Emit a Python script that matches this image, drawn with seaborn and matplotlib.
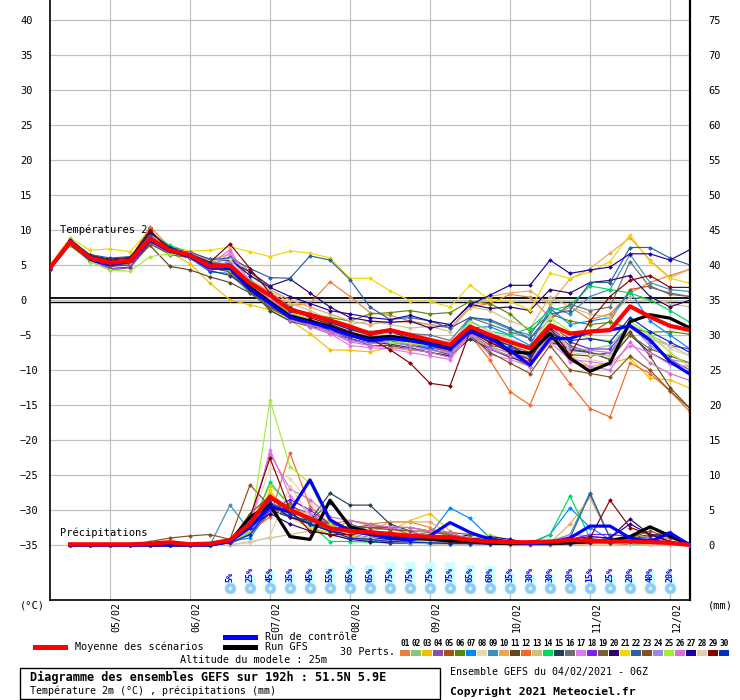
import numpy as np
import pandas as pd
import seaborn as sns
import matplotlib.pyplot as plt
from matplotlib.lines import Line2D
from matplotlib.patches import Rectangle

plt.rcParams['font.family'] = ['DejaVu Sans Mono', 'DejaVu Sans']

# échéances (heures depuis le 04/02 06Z)
heures_t = list(range(0, 193, 6))
heures_p = list(range(6, 193, 6))
jours = ['05/02', '06/02', '07/02', '08/02', '09/02', '10/02', '11/02', '12/02']
heures_jours = [18, 42, 66, 90, 114, 138, 162, 186]

couleurs = ['#e8803a', '#88c878', '#f0c000', '#8850a8', '#b05010', '#588800',
            '#0088ff', '#e8d8b0', '#3890c0', '#e8a858', '#604818', '#f86820',
            '#d0c080', '#00d860', '#204058', '#687078', '#e078f0', '#8020f0',
            '#786030', '#300070', '#f0d800', '#2860a0', '#885020', '#9888e8',
            '#a0f030', '#d870d0', '#2000a0', '#e0d0b0', '#880000', '#0030c0']

# températures 2m des 30 perturbations
t01 = [4.5, 8.6, 6.2, 5.5, 5.8, 10.5, 7.5, 6.3, 5.0, 4.6, 2.0, 0.5, -0.8, -0.5, 2.6, 0.5, -1.8, -2.2, -3.0, -3.5, -4.0, -1.0, -0.5, 0.8, 0.4, -2.5, -1.0, -2.8, -2.0, 1.0, 2.5, 3.5, 4.4]
t02 = [4.7, 8.2, 5.8, 5.0, 5.2, 8.5, 6.9, 6.0, 4.5, 4.3, 1.5, -0.5, -2.5, -3.3, -4.2, -5.0, -5.5, -5.8, -6.0, -6.5, -7.0, -4.6, -5.5, -7.0, -8.0, -4.8, -6.0, -7.0, -6.5, -3.5, -5.0, -6.5, -8.0]
t03 = [4.4, 8.0, 5.7, 5.0, 5.3, 8.3, 6.8, 5.2, 2.4, 0.0, -0.7, -1.4, -2.9, -4.8, -7.1, -7.2, -7.4, -6.8, -7.2, -7.0, -8.0, -5.0, -6.8, -7.5, -9.0, -5.5, -8.0, -9.5, -9.0, -8.3, -11.2, -11.4, -12.6]
t04 = [4.3, 8.0, 5.5, 4.3, 4.6, 8.0, 6.7, 6.1, 4.6, 4.4, 1.8, -0.2, -2.8, -3.5, -4.5, -5.2, -5.8, -6.0, -6.5, -6.8, -7.4, -4.5, -6.0, -7.5, -8.5, -4.5, -7.2, -7.5, -8.0, -3.8, -6.0, -8.5, -10.0]
t05 = [4.6, 8.4, 6.3, 5.6, 5.9, 9.3, 7.3, 6.5, 5.1, 5.2, 2.8, 1.2, -1.0, -2.2, -3.0, -4.0, -5.3, -5.0, -5.5, -6.2, -6.6, -4.2, -5.4, -6.5, -7.5, -3.8, -5.5, -4.8, -3.0, 1.5, 2.0, 0.8, 0.5]
t06 = [4.8, 8.5, 6.1, 5.3, 5.5, 9.0, 7.6, 6.6, 5.2, 4.5, 2.2, 0.0, -1.8, -2.0, -2.5, -3.0, -2.0, -1.8, -1.5, -2.0, -1.8, -0.2, -0.5, -2.0, -4.5, -2.0, -3.0, -3.5, -3.2, -4.0, -4.6, -4.5, -4.9]
t07 = [4.4, 8.1, 5.9, 5.2, 5.4, 8.4, 6.8, 6.0, 4.0, 3.8, 1.0, -1.0, -2.0, -2.7, -4.0, -5.0, -5.8, -6.0, -6.2, -6.8, -7.0, -4.0, -3.8, -5.0, -6.5, -1.2, -3.5, -3.0, -2.5, 1.2, -3.0, -5.0, -7.0]
t08 = [4.6, 8.2, 6.0, 5.5, 5.7, 8.6, 7.0, 6.6, 5.4, 5.5, 3.0, 1.2, -1.2, -2.5, -3.5, -5.0, -6.0, -6.4, -6.0, -6.5, -7.2, -4.8, -6.5, -7.8, -8.5, -4.5, -8.0, -8.5, -9.0, -4.2, -5.5, -7.0, -8.0]
t09 = [4.5, 8.3, 6.2, 5.4, 5.6, 8.7, 7.0, 6.2, 4.5, 4.2, 1.5, -0.8, -2.2, -3.0, -3.8, -4.8, -5.5, -5.2, -5.6, -6.0, -6.8, -2.5, -3.0, -4.2, -5.0, -1.0, -2.0, 0.5, 1.5, 6.5, 2.5, 1.5, 1.2]
t10 = [4.7, 8.6, 6.4, 5.8, 6.0, 9.4, 7.2, 6.8, 5.8, 6.5, 4.0, 1.5, 0.0, -1.0, -2.0, -3.0, -3.5, -3.0, -3.2, -3.5, -4.0, -1.2, 0.5, 1.0, 1.3, -0.5, 3.0, 4.5, 6.7, 8.9, 5.7, 3.2, 4.4]
t11 = [4.4, 7.8, 5.6, 4.8, 5.0, 7.8, 4.8, 4.3, 3.3, 2.5, 1.0, -1.0, -2.5, -3.8, -4.8, -5.5, -6.5, -6.5, -7.0, -7.5, -8.0, -5.5, -7.0, -8.0, -9.5, -5.0, -7.8, -8.0, -7.5, -4.5, -8.0, -12.5, -15.5]
t12 = [4.6, 8.3, 6.1, 5.4, 5.6, 8.9, 7.0, 6.3, 4.7, 4.6, 2.0, 0.2, -1.8, -2.8, -3.8, -4.5, -5.5, -6.0, -6.3, -6.5, -7.5, -5.0, -8.6, -13.1, -15.0, -8.1, -12.0, -15.5, -16.7, -9.0, -10.5, -13.0, -16.0]
t13 = [4.5, 8.4, 6.2, 5.6, 5.8, 9.2, 7.4, 7.0, 5.6, 6.0, 3.5, 1.5, -0.5, -1.5, -2.8, -3.5, -3.0, -3.5, -4.0, -3.8, -4.5, -1.0, -1.5, -3.0, -4.0, 0.5, -1.0, -2.0, -2.5, 0.5, 0.0, -0.5, -1.0]
t14 = [4.8, 8.8, 6.4, 5.7, 5.9, 9.5, 7.8, 6.8, 5.5, 5.0, 2.8, 0.5, -1.0, -2.5, -3.2, -4.2, -5.0, -5.5, -5.2, -6.0, -6.2, -3.0, -4.5, -5.0, -4.0, -1.5, -0.8, 2.0, 1.5, 1.0, 0.0, -1.5, -3.2]
t15 = [4.6, 8.5, 6.3, 5.8, 6.1, 9.0, 7.2, 6.2, 4.2, 3.5, 1.5, -1.5, -3.0, -3.8, -4.2, -5.2, -6.0, -6.3, -6.8, -7.5, -8.0, -5.5, -7.0, -8.2, -9.0, -6.0, -7.0, -7.5, -8.5, -5.0, -7.5, -9.0, -10.5]
t16 = [4.5, 8.2, 6.0, 5.4, 5.7, 8.8, 7.1, 6.4, 4.9, 6.2, 2.5, 0.8, -1.5, -2.0, -3.0, -3.8, -4.5, -4.2, -4.8, -5.0, -5.8, -2.5, -3.5, -4.5, -5.5, -2.8, -0.6, -1.5, -1.0, 5.5, 1.8, 1.0, 0.5]
t17 = [4.4, 8.0, 5.9, 5.1, 5.4, 8.6, 7.0, 6.2, 4.4, 6.8, 2.2, -0.5, -2.8, -3.8, -4.8, -6.5, -6.8, -7.0, -7.5, -8.0, -8.5, -5.0, -7.8, -8.5, -9.5, -6.0, -8.5, -8.8, -9.2, -6.5, -7.5, -9.2, -9.5]
t18 = [4.5, 8.3, 5.8, 4.5, 4.7, 8.4, 6.9, 6.0, 4.3, 4.8, 2.0, 0.0, -2.0, -3.3, -4.2, -5.5, -6.2, -5.8, -6.5, -7.0, -7.8, -4.0, -6.2, -6.8, -7.8, -4.0, -6.0, -7.0, -7.0, -3.5, -5.5, -6.5, -7.0]
t19 = [4.7, 8.1, 5.7, 5.0, 5.2, 8.0, 6.5, 6.0, 4.6, 4.0, 1.2, -1.2, -2.6, -3.5, -4.0, -5.0, -5.8, -5.5, -6.0, -6.5, -7.0, -4.5, -6.5, -7.0, -8.0, -4.2, -6.5, -7.5, -8.5, -5.0, -7.0, -8.0, -9.0]
t20 = [4.6, 8.5, 6.2, 5.6, 5.8, 9.6, 7.5, 6.8, 5.8, 5.6, 4.0, 2.0, 3.0, 1.0, -1.0, -2.5, -3.0, -3.2, -3.0, -4.0, -3.5, -0.6, -1.2, -1.0, -1.5, 1.5, 1.0, 2.5, 2.8, 3.5, 0.5, -1.0, 0.0]
t21 = [4.9, 8.9, 7.1, 7.3, 6.9, 10.0, 7.3, 7.0, 7.1, 7.6, 6.9, 6.2, 7.0, 6.7, 6.0, 3.1, 3.1, 1.3, -0.1, -0.2, -1.0, 2.1, 0.0, -0.2, -1.4, 3.8, 3.1, 4.0, 5.5, 9.3, 5.5, 3.1, 2.4]
t22 = [4.5, 8.4, 6.5, 6.0, 6.2, 9.1, 7.2, 6.8, 5.8, 6.0, 4.5, 3.2, 3.1, 6.3, 5.7, 2.9, -1.0, -2.8, -2.5, -3.0, -4.0, -2.5, -2.8, -4.0, -5.5, -2.0, -1.5, 2.5, 2.5, 7.5, 7.5, 6.0, 5.0]
t23 = [4.6, 8.3, 6.0, 5.2, 5.5, 8.7, 7.2, 6.5, 5.0, 5.3, 2.6, 0.6, -1.6, -2.4, -3.4, -4.6, -5.2, -5.5, -5.8, -6.6, -7.2, -5.0, -7.5, -9.0, -10.5, -6.5, -10.0, -10.5, -11.0, -8.0, -10.0, -13.0, -15.5]
t24 = [4.5, 8.2, 5.9, 5.0, 5.3, 8.5, 6.8, 6.1, 4.6, 5.5, 2.3, 0.2, -2.1, -3.2, -4.6, -5.8, -6.2, -6.0, -6.5, -7.2, -7.5, -5.0, -6.8, -7.5, -8.2, -4.5, -6.8, -7.2, -7.5, -3.5, -6.5, -8.5, -9.0]
t25 = [4.8, 8.0, 5.5, 4.3, 4.1, 6.2, 6.6, 6.3, 4.8, 4.3, 2.5, 0.5, -1.8, -2.8, -4.0, -4.8, -5.5, -6.0, -6.2, -6.5, -6.8, -3.5, -5.8, -6.5, -7.0, -2.5, -4.5, -5.5, -5.8, -3.0, -5.0, -7.5, -9.5]
t26 = [4.5, 8.2, 6.0, 5.3, 5.6, 8.9, 7.1, 6.3, 5.0, 7.2, 2.5, 0.0, -2.3, -3.5, -4.6, -6.0, -6.5, -6.8, -7.0, -7.5, -8.2, -4.6, -7.0, -8.0, -8.8, -5.0, -8.8, -9.5, -10.0, -6.0, -9.0, -10.5, -11.5]
t27 = [4.6, 8.6, 6.3, 5.8, 6.0, 9.8, 7.4, 6.7, 5.6, 5.8, 3.5, 1.8, 0.5, -0.5, -1.5, -2.0, -2.5, -2.8, -2.2, -3.0, -3.5, -0.7, 0.7, 2.1, 2.1, 5.7, 3.8, 4.3, 4.7, 6.6, 6.6, 5.7, 7.2]
t28 = [4.6, 8.3, 6.2, 5.7, 5.9, 8.8, 7.2, 6.7, 5.6, 5.8, 2.6, 0.5, -1.4, -2.4, -3.6, -4.5, -5.0, -4.8, -5.2, -5.5, -6.0, -3.2, -4.5, -5.5, -6.8, -2.2, -7.5, -7.8, -8.0, -3.8, -5.5, -6.5, -8.0]
t29 = [4.7, 8.5, 6.4, 5.7, 6.0, 10.0, 7.0, 6.6, 5.4, 8.0, 4.5, 1.0, -1.2, -2.5, -3.5, -4.5, -5.5, -7.1, -9.0, -11.9, -12.3, -4.5, -6.0, -7.5, -8.5, -4.0, -7.8, -3.0, 0.5, 2.8, 3.5, 1.8, 1.8]
t30 = [4.5, 8.6, 6.3, 5.5, 5.7, 8.9, 7.3, 6.6, 5.2, 5.0, 2.5, 0.8, -1.5, -2.2, -3.2, -4.2, -5.0, -4.5, -5.5, -6.5, -7.0, -4.0, -5.5, -6.5, -8.0, -4.8, -5.8, -5.5, -6.0, -2.5, -4.5, -6.0, -7.5]

t_moyenne = [4.6, 8.3, 6.0, 5.3, 5.6, 8.8, 7.1, 6.4, 4.8, 4.9, 2.4, 0.7, -1.4, -2.1, -2.9, -3.8, -4.8, -4.3, -5.0, -5.7, -6.4, -3.8, -5.0, -6.0, -6.9, -3.6, -4.8, -4.5, -4.3, -0.9, -2.4, -3.7, -4.3]
t_controle = [4.6, 8.3, 5.8, 5.0, 5.5, 8.5, 7.0, 6.2, 4.6, 4.5, 1.5, -0.5, -2.5, -3.2, -4.0, -5.0, -5.8, -5.5, -5.8, -6.3, -7.0, -4.5, -5.5, -7.2, -9.3, -5.5, -5.5, -4.5, -4.3, -3.7, -5.7, -8.8, -10.6]
t_gfs = [4.6, 8.2, 5.9, 5.2, 5.5, 8.6, 7.0, 6.3, 4.7, 4.6, 1.8, -0.3, -2.3, -3.0, -3.8, -4.8, -5.5, -5.2, -5.6, -6.0, -6.6, -4.3, -5.0, -7.4, -7.6, -4.8, -8.3, -10.2, -9.0, -3.1, -2.1, -2.6, -4.0]

# précipitations (mm / 6h) des 30 perturbations
p01 = [0, 0, 0, 0, 0, 0, 0, 0, 0.5, 2.5, 7.0, 5.5, 3.0, 2.0, 3.5, 3.0, 3.3, 3.3, 2.5, 1.0, 0.5, 0.3, 0.2, 0.2, 0.3, 0.5, 1.0, 0.5, 0.5, 0.8, 1.0, 0]
p02 = [0, 0, 0, 0, 0, 0, 0, 0, 0.3, 1.5, 5.0, 4.0, 2.5, 1.5, 1.0, 0.5, 0.3, 0.2, 0.5, 0.8, 0.3, 0.1, 0, 0, 0, 0.2, 0.3, 0.5, 0.3, 0.2, 0.1, 0]
p03 = [0, 0, 0, 0, 0, 0, 0, 0.1, 0.8, 3.0, 8.5, 6.0, 3.0, 2.0, 1.5, 1.0, 2.0, 3.5, 4.5, 2.0, 0.5, 0.2, 0.1, 0.1, 0.2, 0.3, 0.2, 0.3, 0.8, 2.5, 1.0, 0]
p04 = [0, 0, 0, 0, 0, 0, 0, 0, 0.4, 2.0, 6.5, 5.5, 4.5, 2.5, 1.5, 1.0, 0.5, 0.3, 0.2, 0.5, 1.2, 0.4, 0.2, 0, 0, 0.3, 0.5, 0.3, 0.2, 0.1, 0.1, 0]
p05 = [0, 0, 0, 0, 0, 0, 0, 0, 0.2, 1.5, 4.5, 6.0, 3.5, 2.0, 1.2, 0.8, 0.5, 0.3, 0.2, 0.2, 0.1, 0.1, 0, 0, 0, 0.2, 0.2, 0.2, 0.1, 0.1, 0.1, 0]
p06 = [0, 0, 0, 0, 0, 0, 0, 0, 0.3, 2.5, 6.0, 4.5, 3.0, 2.5, 2.0, 1.5, 1.0, 1.5, 1.8, 1.5, 0.6, 0.3, 0.2, 0.1, 0.2, 0.5, 0.6, 0.4, 0.3, 0.2, 0.2, 0]
p07 = [0, 0, 0, 0, 0, 0, 0, 0, 0.5, 1.0, 5.0, 4.0, 3.0, 2.5, 1.0, 0.8, 0.5, 0.4, 1.5, 5.3, 3.8, 1.0, 0.3, 0.3, 1.5, 5.3, 2.5, 0.8, 0.3, 0.5, 0.5, 0]
p08 = [0, 0, 0, 0, 0, 0, 0, 0, 0.2, 3.0, 11.0, 9.5, 6.0, 3.5, 1.5, 1.0, 0.7, 0.6, 0.5, 0.3, 0.2, 0.1, 0.1, 0, 0.1, 0.3, 0.5, 0.6, 0.5, 0.5, 0.8, 0]
p09 = [0, 0, 0, 0, 0, 0, 0, 0, 5.7, 2.0, 4.5, 5.0, 3.5, 2.0, 1.5, 1.0, 0.5, 0.3, 0.3, 0.2, 0.1, 0.1, 0.2, 0.3, 0.5, 1.5, 7.5, 1.0, 0.5, 0.3, 0.2, 0]
p10 = [0, 0, 0, 0, 0, 0, 0, 0, 0.3, 2.0, 7.5, 5.0, 4.5, 3.0, 2.5, 2.0, 3.3, 3.3, 3.3, 1.5, 0.5, 0.3, 0.2, 0.2, 0.3, 3.0, 6.8, 1.0, 0.3, 1.5, 1.2, 0]
p11 = [0, 0, 0, 0, 0, 0, 0, 0, 0.5, 2.5, 6.0, 5.0, 3.5, 3.0, 2.5, 2.8, 2.5, 1.5, 1.0, 0.5, 0.3, 0.2, 0.1, 0.1, 0.1, 0.2, 0.3, 0.5, 1.0, 1.5, 0.5, 0]
p12 = [0, 0, 0, 0, 0, 0, 0, 0, 0.2, 2.0, 4.0, 13.1, 5.5, 3.0, 3.5, 3.0, 2.5, 1.5, 1.0, 0.5, 0.2, 0.1, 0.1, 0, 0, 0.1, 0.2, 0.3, 0.2, 0.1, 0.1, 0]
p13 = [0, 0, 0, 0, 0, 0, 0, 0, 0, 0.5, 1.0, 1.5, 2.0, 1.5, 1.0, 0.8, 0.5, 0.3, 0.2, 0.1, 0, 0, 0, 0, 0, 0.1, 0.2, 0.5, 0.8, 1.0, 0.6, 0]
p14 = [0, 0, 0, 0, 0, 0, 0, 0, 0.4, 1.8, 9.0, 5.5, 3.0, 0.5, 0.5, 0.4, 0.3, 0.3, 0.2, 0.2, 0.1, 0.1, 0.1, 0.1, 1.5, 7.0, 1.0, 0.3, 0.2, 0.1, 0.1, 0]
p15 = [0, 0, 0, 0, 0, 0, 0, 0, 0.5, 2.5, 5.0, 4.0, 3.5, 7.4, 5.7, 5.7, 3.0, 2.0, 1.0, 0.5, 0.3, 0.2, 0.1, 0.1, 0.2, 0.5, 0.8, 0.6, 0.4, 0.3, 0.2, 0]
p16 = [0, 0, 0, 0, 0, 0, 0, 0, 0.3, 1.5, 6.0, 4.5, 3.0, 2.0, 1.5, 1.0, 0.8, 0.6, 0.5, 0.3, 0.2, 0.1, 0.1, 0.1, 0.2, 0.4, 0.6, 0.5, 0.4, 0.3, 0.2, 0]
p17 = [0, 0, 0, 0, 0, 0, 0, 0, 0.3, 2.5, 13.6, 7.0, 4.5, 3.0, 2.5, 2.0, 2.5, 2.0, 1.2, 0.5, 0.3, 0.2, 0.1, 0.1, 0.2, 1.5, 1.3, 0.8, 0.5, 0.3, 0.2, 0]
p18 = [0, 0, 0, 0, 0, 0, 0, 0, 0.2, 1.5, 5.0, 6.5, 5.0, 3.0, 1.5, 1.0, 0.8, 0.5, 0.3, 0.2, 0.3, 1.0, 0.5, 0.2, 0.2, 0.8, 1.5, 1.5, 1.2, 0.8, 0.3, 0]
p19 = [0, 0, 0, 0, 0, 0, 0, 0, 0.4, 4.5, 7.0, 5.0, 4.0, 3.0, 2.5, 2.5, 2.5, 2.5, 2.0, 1.5, 1.0, 0.5, 0.3, 0.2, 0.2, 0.3, 0.5, 0.4, 0.3, 0.2, 0.2, 0]
p20 = [0, 0, 0, 0, 0, 0, 0, 0.2, 0.8, 2.5, 4.5, 3.0, 2.0, 1.5, 0.8, 0.5, 0.3, 0.3, 0.5, 0.8, 1.5, 1.0, 0.5, 0.3, 0.2, 0.3, 0.5, 1.0, 3.7, 1.5, 0.5, 0]
p21 = [0, 0, 0, 0, 0, 0, 0, 0, 0.3, 2.0, 7.8, 4.0, 2.5, 1.8, 1.2, 1.0, 0.8, 0.8, 0.5, 0.5, 0.4, 0.3, 0.3, 0.3, 0.2, 0.3, 0.2, 0.2, 0.5, 2.5, 1.5, 0]
p22 = [0, 0, 0, 0, 0, 0, 0, 0, 0.5, 3.0, 6.5, 5.0, 3.5, 6.0, 3.0, 2.0, 1.5, 1.0, 0.8, 0.5, 0.3, 0.2, 0.2, 0.2, 0.3, 1.0, 7.3, 1.0, 0.8, 1.2, 1.9, 0]
p23 = [0, 0, 0, 0, 0.5, 1.0, 1.3, 1.5, 0.8, 8.6, 5.5, 4.0, 3.0, 2.5, 2.5, 2.5, 2.2, 2.0, 2.0, 1.8, 1.5, 1.0, 0.5, 0.3, 0.3, 0.5, 0.5, 0.5, 1.0, 2.0, 1.0, 0]
p24 = [0, 0, 0, 0, 0, 0, 0, 0, 0.2, 1.5, 6.0, 4.5, 4.0, 2.5, 1.5, 1.0, 0.8, 0.5, 0.3, 0.2, 0.2, 0.2, 0.1, 0.1, 0.2, 0.4, 0.5, 0.6, 0.8, 1.0, 0.5, 0]
p25 = [0, 0, 0, 0, 0, 0, 0, 0, 0.2, 2.0, 20.7, 11.2, 8.8, 3.0, 1.5, 1.0, 0.8, 0.6, 0.5, 0.5, 1.0, 1.5, 0.5, 0.3, 0.3, 0.5, 0.8, 0.5, 0.3, 0.2, 0.2, 0]
p26 = [0, 0, 0, 0, 0, 0, 0, 0, 0.4, 3.5, 13.0, 8.0, 6.5, 4.0, 3.5, 2.8, 2.6, 2.5, 2.0, 1.8, 0.8, 0.5, 0.3, 0.2, 0.3, 0.5, 0.8, 0.8, 0.6, 0.3, 0.2, 0]
p27 = [0, 0, 0, 0, 0, 0, 0.1, 0.2, 0.5, 2.5, 6.0, 4.0, 3.0, 2.0, 1.5, 1.0, 0.8, 0.6, 1.0, 1.0, 0.8, 1.2, 0.8, 0.3, 0.5, 0.8, 1.2, 1.0, 3.0, 1.5, 1.3, 0]
p28 = [0, 0, 0, 0, 0, 0, 0, 0, 0.1, 0.3, 1.2, 8.5, 4.0, 2.5, 1.5, 1.0, 0.5, 0.3, 0.2, 0.1, 0.1, 0, 0, 0, 0, 0.1, 0.2, 0.3, 0.2, 0.1, 0.1, 0]
p29 = [0, 0, 0, 0, 0, 0, 0, 0, 0.5, 4.0, 12.4, 5.0, 2.0, 1.5, 1.5, 1.8, 1.5, 1.0, 0.8, 0.5, 0.3, 0.2, 0.2, 0.2, 0.3, 0.5, 1.0, 6.4, 2.5, 1.5, 0.5, 0]
p30 = [0, 0, 0, 0, 0, 0, 0, 0, 0.3, 1.5, 5.5, 4.5, 3.0, 2.0, 1.0, 0.8, 0.5, 0.4, 0.3, 0.2, 0.2, 0.1, 0.1, 0.1, 0.1, 0.2, 0.3, 0.3, 0.5, 0.8, 0.3, 0]

p_moyenne = [0.1, 0.1, 0.1, 0.1, 0.2, 0.4, 0.1, 0.2, 0.7, 3.1, 6.9, 5.0, 3.8, 2.4, 2.0, 1.8, 1.6, 1.3, 1.2, 1.1, 0.7, 0.5, 0.4, 0.4, 0.5, 0.7, 0.6, 0.5, 0.5, 0.4, 0.3, 0.0]
p_controle = [0, 0, 0, 0, 0, 0, 0, 0, 0.5, 2.5, 5.5, 4.8, 9.3, 3.6, 2.0, 1.5, 1.0, 0.8, 1.3, 3.2, 1.8, 0.8, 0.4, 0.2, 0.3, 1.0, 2.7, 2.7, 1.0, 0.5, 1.7, 0]
p_gfs = [0, 0, 0, 0, 0, 0, 0, 0, 0.5, 4.0, 5.7, 1.2, 0.8, 6.4, 2.6, 1.8, 1.5, 1.0, 0.8, 0.6, 0.5, 0.3, 0.2, 0.2, 0.2, 0.3, 0.5, 0.6, 1.2, 2.6, 1.3, 0]

# probabilité de neige (%)
heures_neige = list(range(54, 187, 6))
neige = [5, 25, 45, 35, 45, 55, 65, 65, 75, 75, 75, 75, 65, 60, 35, 30, 30, 20, 15, 25, 20, 40, 20]

temps = [t01, t02, t03, t04, t05, t06, t07, t08, t09, t10, t11, t12, t13, t14, t15,
         t16, t17, t18, t19, t20, t21, t22, t23, t24, t25, t26, t27, t28, t29, t30]
precs = [p01, p02, p03, p04, p05, p06, p07, p08, p09, p10, p11, p12, p13, p14, p15,
         p16, p17, p18, p19, p20, p21, p22, p23, p24, p25, p26, p27, p28, p29, p30]
noms = ['%02d' % (i + 1) for i in range(30)]

df_t = pd.DataFrame({'heure': heures_t * 30, 'val': sum(temps, []),
                     'membre': np.repeat(noms, len(heures_t))})
df_p = pd.DataFrame({'heure': heures_p * 30, 'val': sum(precs, []),
                     'membre': np.repeat(noms, len(heures_p))})
palette = dict(zip(noms, couleurs))

W, H = 740, 700
fig = plt.figure(figsize=(W / 100, H / 100), dpi=100)
ax = fig.add_axes([50 / W, 100 / H, 640 / W, 600 / H])
lim = 300 / 7
ax.set_xlim(0, 192)
ax.set_ylim(-lim, lim)
ax2 = ax.twinx()
ax2.set_ylim(-lim + 35, lim + 35)

ax.set_axisbelow(True)
ax.set_yticks(range(-35, 41, 5))
ax.set_xticks(heures_jours)
ax.set_xticklabels([])
ax.grid(color='#c0c0c0', lw=0.9)
ax.tick_params(length=0, labelsize=7.5, pad=21.6)
for lbl in ax.get_yticklabels():
    lbl.set_ha('left')
ax2.set_yticks(range(0, 76, 5))
ax2.tick_params(length=0, labelsize=7.5, pad=13.5)
for a in (ax, ax2):
    for s in ('top', 'left', 'right', 'bottom'):
        a.spines[s].set_visible(False)
ax.spines['left'].set_visible(True)
ax.spines['bottom'].set_visible(True)
ax2.spines['right'].set_visible(True)
ax.spines['left'].set_linewidth(1.2)
ax.spines['bottom'].set_linewidth(1.2)
ax2.spines['right'].set_linewidth(1.6)

ax.axhline(0.25, color='black', lw=1.3, zorder=2)
ax.axhline(-0.22, color='black', lw=1.0, zorder=2)

ax.text(3, 10, 'Températures 2m', fontsize=7.5, va='center', zorder=1)
ax.text(3, -33.3, 'Précipitations', fontsize=7.5, va='center', zorder=1)

# ensemble températures
sns.lineplot(data=df_t, x='heure', y='val', hue='membre', palette=palette,
             estimator=None, legend=False, lw=0.85, marker='D', markersize=2.4,
             markeredgewidth=0, ax=ax, zorder=3)
sns.lineplot(x=heures_t, y=t_gfs, color='black', lw=2.3, ax=ax, zorder=4)
sns.lineplot(x=heures_t, y=t_controle, color='#0000ff', lw=2.3, ax=ax, zorder=5)
sns.lineplot(x=heures_t, y=t_moyenne, color='#ff0000', lw=3.0, ax=ax, zorder=6)

# ensemble précipitations
sns.lineplot(data=df_p, x='heure', y='val', hue='membre', palette=palette,
             estimator=None, legend=False, lw=0.85, marker='D', markersize=2.4,
             markeredgewidth=0, ax=ax2, zorder=3)
sns.lineplot(x=heures_p, y=p_gfs, color='black', lw=2.3, ax=ax2, zorder=4)
sns.lineplot(x=heures_p, y=p_controle, color='#0000ff', lw=2.3, ax=ax2, zorder=5)
sns.lineplot(x=heures_p, y=p_moyenne, color='#ff0000', lw=3.0, ax=ax2, zorder=6)
ax.set_xlabel('')
ax.set_ylabel('')
ax2.set_ylabel('')
ax2.set_xlim(0, 192)

# neige
ax.bar(heures_neige, [v * 0.28 / 7 for v in neige], bottom=-40.45, width=3.0,
       color='#ccffff', zorder=2)
ax.scatter(heures_neige, [-41.2] * len(neige), s=62, color='#8cccf4',
           edgecolor='#b0dcf8', lw=0.5, zorder=3, clip_on=False)
ax.scatter(heures_neige, [-41.2] * len(neige), s=18, marker='*', color='#e8f6ff',
           lw=0, zorder=4, clip_on=False)
for h, v in zip(heures_neige, neige):
    ax.text(h, -40.3, '%d%%' % v, rotation=90, ha='center', va='bottom',
            fontsize=6, color='#0000ff', fontweight='bold', zorder=5)

for h, d in zip(heures_jours, jours):
    ax.text(h + 2.0, -lim - 0.25, d, rotation=90, ha='center', va='top', fontsize=7.2)


def ft(x, y, s, **kw):
    fig.text(x / W, 1 - y / H, s, **kw)


ft(20, 606, '(°C)', fontsize=7.5, va='center')
ft(708, 606, '(mm)', fontsize=7.5, va='center')

fig.add_artist(Line2D([35 / W, 65 / W], [1 - 647 / H] * 2, color='#ff0000', lw=3.6))
fig.add_artist(Line2D([225 / W, 255 / W], [1 - 637 / H] * 2, color='#0000ff', lw=3.6))
fig.add_artist(Line2D([225 / W, 255 / W], [1 - 647 / H] * 2, color='black', lw=3.6))
ft(75, 647, 'Moyenne des scénarios', fontsize=7.3, va='center')
ft(265, 637, 'Run de contrôle', fontsize=7.3, va='center')
ft(265, 647, 'Run GFS', fontsize=7.3, va='center')
ft(180, 660, 'Altitude du modele : 25m', fontsize=7.3, va='center')
ft(340, 652, '30 Perts.', fontsize=7.3, va='center')
for i, (n, c) in enumerate(zip(noms, couleurs)):
    x0 = 400 + 11 * i
    fig.add_artist(Rectangle((x0 / W, 1 - 656 / H), 10 / W, 6 / H,
                             transform=fig.transFigure, color=c, lw=0))
    ft(x0 + 5, 643, n, fontsize=5.6, ha='center', va='center', fontweight='bold')

fig.add_artist(Rectangle((20 / W, 1 - 699 / H), 420 / W, 31 / H,
                         transform=fig.transFigure, fill=False, ec='black', lw=1))
ft(30, 677, 'Diagramme des ensembles GEFS sur 192h : 51.5N 5.9E', fontsize=8.6,
   fontweight='bold', va='center')
ft(30, 691, 'Température 2m (°C) , précipitations (mm)', fontsize=7.2, va='center')
ft(450, 672, 'Ensemble GEFS du 04/02/2021 - 06Z', fontsize=7.2, va='center')
ft(450, 692, 'Copyright 2021 Meteociel.fr', fontsize=8.2, fontweight='bold', va='center')

fig.savefig('out.png', dpi=100)
